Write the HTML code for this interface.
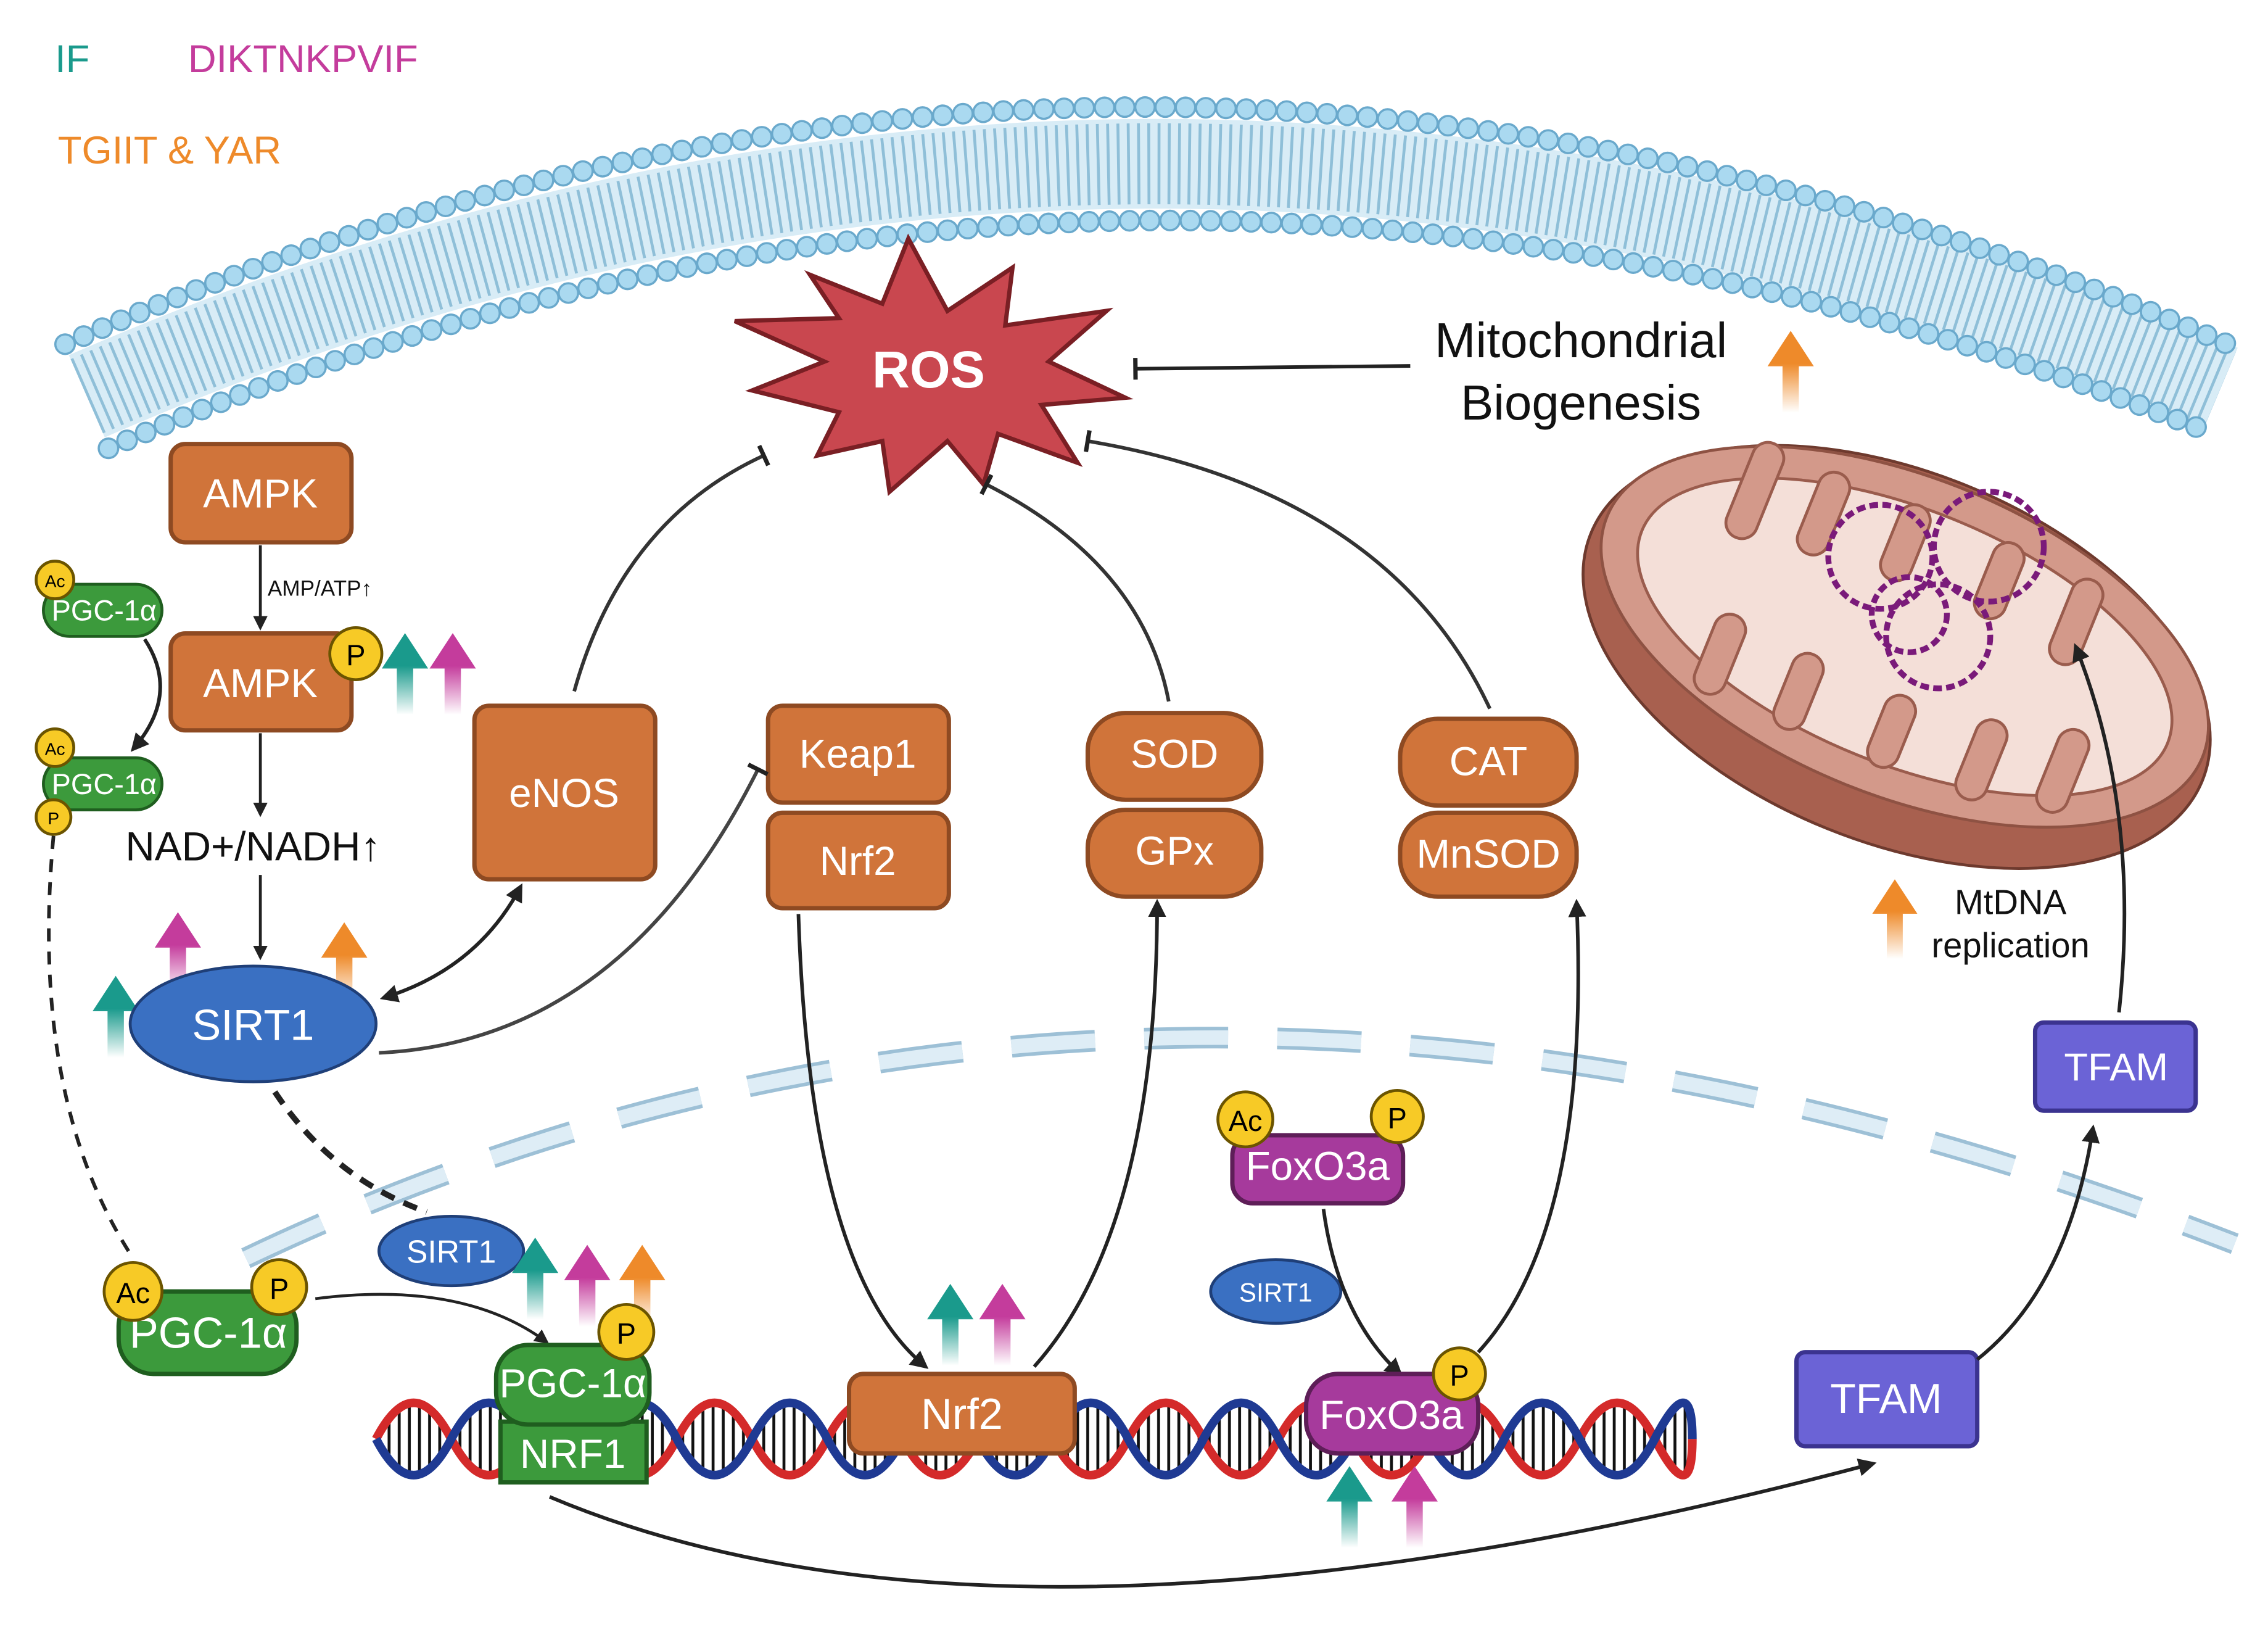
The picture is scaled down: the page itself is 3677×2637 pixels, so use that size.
<!DOCTYPE html>
<html><head><meta charset="utf-8"><style>
html,body{margin:0;padding:0;background:#fff;}
svg{display:block;}
text{font-family:"Liberation Sans",sans-serif;}
</style></head><body>
<svg width="3677" height="2637" viewBox="0 0 1568 1125" preserveAspectRatio="none" xmlns="http://www.w3.org/2000/svg">
<defs>
<marker id="ah" viewBox="0 0 10 10" refX="8" refY="5" markerWidth="5" markerHeight="5" orient="auto-start-reverse"><path d="M0,0 L10,5 L0,10 z" fill="#222"/></marker>
<marker id="bar" viewBox="0 0 10 10" refX="5" refY="5" markerWidth="6" markerHeight="6" orient="auto"><path d="M5,0 L5,10" stroke="#222" stroke-width="2"/></marker>
<linearGradient id="gT" x1="0" y1="0" x2="0" y2="1"><stop offset="0.4" stop-color="#1a9a8c"/><stop offset="1" stop-color="#1a9a8c" stop-opacity="0"/></linearGradient>
<linearGradient id="gM" x1="0" y1="0" x2="0" y2="1"><stop offset="0.4" stop-color="#c43c9c"/><stop offset="1" stop-color="#c43c9c" stop-opacity="0"/></linearGradient>
<linearGradient id="gO" x1="0" y1="0" x2="0" y2="1"><stop offset="0.4" stop-color="#ee8a2a"/><stop offset="1" stop-color="#ee8a2a" stop-opacity="0"/></linearGradient>
<symbol id="up" viewBox="0 0 34 60" overflow="visible"><path d="M17,0 L34,26 L23,26 L23,60 L11,60 L11,26 L0,26 Z"/></symbol>
<pattern id="rungs" width="7" height="10" patternUnits="userSpaceOnUse"><rect x="2" y="0" width="2" height="10" fill="#111"/></pattern>
<clipPath id="dnaClip"><path d="M260,995 Q286,945 312,995 T364,995 T416,995 T468,995 T520,995 T572,995 T624,995 T676,995 T728,995 T780,995 T832,995 T884,995 T936,995 T988,995 T1040,995 T1092,995 T1144,995 T1196,995 Q1170,945 1144,995 T1092,995 T1040,995 T988,995 T936,995 T884,995 T832,995 T780,995 T728,995 T676,995 T624,995 T572,995 T520,995 T468,995 T416,995 T364,995 T312,995 T260,995 Z"/></clipPath>
</defs>

<text x="38" y="50" font-size="27" fill="#1a9a8c">IF</text>
<text x="130" y="50" font-size="27" fill="#c43c9c">DIKTNKPVIF</text>
<text x="40" y="113" font-size="27" fill="#ee8a2a">TGIIT &amp; YAR</text>

<path d="M60,274 Q790,-45 1535,269" fill="none" stroke="#d8ecf6" stroke-width="62"/>
<path d="M60,274 Q790,-45 1535,269" fill="none" stroke="#8fbfd8" stroke-width="56" stroke-dasharray="2 5"/>
<path d="M45,238 Q790,-90 1540,238" fill="none" stroke="#6aa9cc" stroke-width="15" stroke-dasharray="0 14" stroke-linecap="round"/>
<path d="M45,238 Q790,-90 1540,238" fill="none" stroke="#aad9f0" stroke-width="12" stroke-dasharray="0 14" stroke-linecap="round"/>
<path d="M75,310 Q790,0 1530,300" fill="none" stroke="#6aa9cc" stroke-width="15" stroke-dasharray="0 14" stroke-linecap="round"/>
<path d="M75,310 Q790,0 1530,300" fill="none" stroke="#aad9f0" stroke-width="12" stroke-dasharray="0 14" stroke-linecap="round"/>

<path d="M170,870 Q800,570 1545,860" fill="none" stroke="#9dc0d6" stroke-width="15" stroke-dasharray="58 34"/>
<path d="M170,870 Q800,570 1545,860" fill="none" stroke="#deedf6" stroke-width="10" stroke-dasharray="58 34"/>

<polygon points="628,165 655,215 700,185 695,225 765,215 725,250 778,275 720,280 745,320 690,300 680,335 655,305 615,340 610,305 565,315 580,285 520,270 570,250 508,222 580,220 560,190 610,210" fill="#c9474f" stroke="#7a1f24" stroke-width="3"/>
<text x="642" y="268" font-size="36" font-weight="bold" fill="#fff" text-anchor="middle">ROS</text>

<text x="1093" y="247" font-size="34" text-anchor="middle" fill="#111">Mitochondrial</text>
<text x="1093" y="290" font-size="34" text-anchor="middle" fill="#111">Biogenesis</text>
<path d="M975,253 L785,255" stroke="#222" stroke-width="2.5" fill="none" marker-end="url(#bar)"/>
<use href="#up" x="1222" y="228" width="32" height="58" fill="url(#gO)"/>

<g transform="rotate(22 1315 445)">
<ellipse cx="1315" cy="455" rx="228" ry="128" fill="#a8604f" stroke="#6e3a2e" stroke-width="2"/>
<ellipse cx="1315" cy="440" rx="222" ry="110" fill="#d3998a" stroke="#8e5243" stroke-width="2"/>
<ellipse cx="1315" cy="440" rx="196" ry="88" fill="#f4dfd8" stroke="#9a5c4d" stroke-width="2"/>
<g fill="#d3998a" stroke="#9a5c4d" stroke-width="2">
<rect x="1170" y="350" width="22" height="70" rx="11"/><rect x="1220" y="352" width="22" height="60" rx="11"/><rect x="1280" y="352" width="22" height="55" rx="11"/><rect x="1350" y="352" width="22" height="55" rx="11"/><rect x="1410" y="355" width="22" height="62" rx="11"/>
<rect x="1190" y="470" width="22" height="58" rx="11"/><rect x="1250" y="475" width="22" height="55" rx="11"/><rect x="1320" y="478" width="22" height="52" rx="11"/><rect x="1385" y="470" width="22" height="58" rx="11"/><rect x="1440" y="455" width="22" height="60" rx="11"/>
</g>
</g>
<g fill="none" stroke="#7a1a7a" stroke-width="4" stroke-dasharray="6 3">
<circle cx="1300" cy="385" r="36"/><circle cx="1375" cy="378" r="38"/><circle cx="1340" cy="440" r="36"/><circle cx="1320" cy="425" r="26"/>
</g>

<rect x="118" y="307" width="125" height="68" rx="10" fill="#d0743a" stroke="#8e4a22" stroke-width="3"/>
<text x="180" y="351" font-size="28" fill="#fff" text-anchor="middle">AMPK</text>
<path d="M180,377 L180,434" stroke="#222" stroke-width="2" marker-end="url(#ah)"/>
<text x="185" y="412" font-size="15" fill="#111">AMP/ATP↑</text>
<rect x="118" y="438" width="125" height="67" rx="10" fill="#d0743a" stroke="#8e4a22" stroke-width="3"/>
<text x="180" y="482" font-size="28" fill="#fff" text-anchor="middle">AMPK</text>
<circle cx="246" cy="452" r="18" fill="#f7ca26" stroke="#6b5400" stroke-width="2"/><text x="246" y="460" font-size="20" text-anchor="middle">P</text>
<use href="#up" x="264" y="436" width="32" height="60" fill="url(#gT)"/>
<use href="#up" x="297" y="436" width="32" height="60" fill="url(#gM)"/>
<path d="M180,507 L180,563" stroke="#222" stroke-width="2" marker-end="url(#ah)"/>
<text x="175" y="595" font-size="28" text-anchor="middle" fill="#111">NAD+/NADH↑</text>
<path d="M180,605 L180,662" stroke="#222" stroke-width="2" marker-end="url(#ah)"/>

<rect x="30" y="404" width="82" height="36" rx="18" fill="#3c9a3c" stroke="#1f5e1f" stroke-width="2"/>
<text x="72" y="429" font-size="20" fill="#fff" text-anchor="middle">PGC-1α</text>
<circle cx="38" cy="401" r="13" fill="#f7ca26" stroke="#6b5400" stroke-width="2"/><text x="38" y="406" font-size="12" text-anchor="middle">Ac</text>
<rect x="30" y="524" width="82" height="36" rx="18" fill="#3c9a3c" stroke="#1f5e1f" stroke-width="2"/>
<text x="72" y="549" font-size="20" fill="#fff" text-anchor="middle">PGC-1α</text>
<circle cx="38" cy="517" r="13" fill="#f7ca26" stroke="#6b5400" stroke-width="2"/><text x="38" y="522" font-size="12" text-anchor="middle">Ac</text>
<circle cx="37" cy="565" r="12" fill="#f7ca26" stroke="#6b5400" stroke-width="2"/><text x="37" y="570" font-size="12" text-anchor="middle">P</text>
<path d="M100,442 Q125,480 92,518" fill="none" stroke="#222" stroke-width="2.5" marker-end="url(#ah)"/>
<path d="M37,578 Q20,760 92,870" fill="none" stroke="#222" stroke-width="2.5" stroke-dasharray="9 7"/>

<use href="#up" x="64" y="672" width="32" height="62" fill="url(#gT)"/>
<use href="#up" x="107" y="628" width="32" height="62" fill="url(#gM)"/>
<use href="#up" x="222" y="635" width="32" height="62" fill="url(#gO)"/>
<ellipse cx="175" cy="708" rx="85" ry="40" fill="#3a70c2" stroke="#1f3f78" stroke-width="2"/>
<text x="175" y="719" font-size="30" fill="#fff" text-anchor="middle">SIRT1</text>
<path d="M190,755 Q230,815 295,838" fill="none" stroke="#222" stroke-width="4" stroke-dasharray="10 7"/>

<rect x="328" y="488" width="125" height="120" rx="10" fill="#d0743a" stroke="#8e4a22" stroke-width="3"/>
<text x="390" y="558" font-size="28" fill="#fff" text-anchor="middle">eNOS</text>
<path d="M265,690 Q330,670 360,613" fill="none" stroke="#222" stroke-width="2.5" marker-start="url(#ah)" marker-end="url(#ah)"/>
<path d="M397,478 Q430,360 528,315" fill="none" stroke="#333" stroke-width="2.5" marker-end="url(#bar)"/>

<rect x="531" y="488" width="125" height="67" rx="10" fill="#d0743a" stroke="#8e4a22" stroke-width="3"/>
<text x="593" y="531" font-size="28" fill="#fff" text-anchor="middle">Keap1</text>
<rect x="531" y="562" width="125" height="66" rx="10" fill="#d0743a" stroke="#8e4a22" stroke-width="3"/>
<text x="593" y="605" font-size="28" fill="#fff" text-anchor="middle">Nrf2</text>
<path d="M262,728 Q430,720 524,532" fill="none" stroke="#444" stroke-width="2.5" marker-end="url(#bar)"/>

<rect x="752" y="493" width="120" height="60" rx="26" fill="#d0743a" stroke="#8e4a22" stroke-width="3"/>
<text x="812" y="531" font-size="28" fill="#fff" text-anchor="middle">SOD</text>
<rect x="752" y="560" width="120" height="60" rx="26" fill="#d0743a" stroke="#8e4a22" stroke-width="3"/>
<text x="812" y="598" font-size="28" fill="#fff" text-anchor="middle">GPx</text>
<path d="M808,485 Q790,390 682,335" fill="none" stroke="#333" stroke-width="2.5" marker-end="url(#bar)"/>

<rect x="968" y="497" width="122" height="60" rx="26" fill="#d0743a" stroke="#8e4a22" stroke-width="3"/>
<text x="1029" y="536" font-size="28" fill="#fff" text-anchor="middle">CAT</text>
<rect x="968" y="562" width="122" height="58" rx="26" fill="#d0743a" stroke="#8e4a22" stroke-width="3"/>
<text x="1029" y="600" font-size="28" fill="#fff" text-anchor="middle">MnSOD</text>
<path d="M1030,490 Q960,340 752,305" fill="none" stroke="#333" stroke-width="2.5" marker-end="url(#bar)"/>

<use href="#up" x="1294" y="608" width="32" height="55" fill="url(#gO)"/>
<text x="1390" y="632" font-size="24" text-anchor="middle" fill="#111">MtDNA</text>
<text x="1390" y="662" font-size="24" text-anchor="middle" fill="#111">replication</text>
<rect x="1407" y="707" width="111" height="61" rx="6" fill="#6b63d6" stroke="#3b3390" stroke-width="3"/>
<text x="1463" y="747" font-size="27" fill="#fff" text-anchor="middle">TFAM</text>
<path d="M1465,700 Q1480,560 1435,447" fill="none" stroke="#222" stroke-width="2.5" marker-end="url(#ah)"/>
<rect x="1242" y="935" width="125" height="65" rx="6" fill="#6b63d6" stroke="#3b3390" stroke-width="3"/>
<text x="1304" y="977" font-size="29" fill="#fff" text-anchor="middle">TFAM</text>
<path d="M1367,940 Q1430,890 1447,780" fill="none" stroke="#222" stroke-width="2.5" marker-end="url(#ah)"/>

<rect x="260" y="960" width="910" height="70" fill="url(#rungs)" clip-path="url(#dnaClip)"/>
<path d="M260,995 Q286,945 312,995 T364,995 T416,995 T468,995 T520,995 T572,995 T624,995 T676,995 T728,995 T780,995 T832,995 T884,995 T936,995 T988,995 T1040,995 T1092,995 T1144,995 T1170,995" fill="none" stroke="#d42a2a" stroke-width="6"/>
<path d="M260,995 Q286,1045 312,995 T364,995 T416,995 T468,995 T520,995 T572,995 T624,995 T676,995 T728,995 T780,995 T832,995 T884,995 T936,995 T988,995 T1040,995 T1092,995 T1144,995 T1170,995" fill="none" stroke="#1f3a93" stroke-width="6"/>

<rect x="82" y="893" width="123" height="57" rx="24" fill="#3c9a3c" stroke="#1f5e1f" stroke-width="3"/>
<text x="144" y="932" font-size="30" fill="#fff" text-anchor="middle">PGC-1α</text>
<circle cx="92" cy="893" r="20" fill="#f7ca26" stroke="#6b5400" stroke-width="2"/><text x="92" y="901" font-size="20" text-anchor="middle">Ac</text>
<circle cx="193" cy="890" r="19" fill="#f7ca26" stroke="#6b5400" stroke-width="2"/><text x="193" y="898" font-size="20" text-anchor="middle">P</text>
<path d="M218,898 Q320,885 378,928" fill="none" stroke="#222" stroke-width="2" marker-end="url(#ah)"/>

<ellipse cx="312" cy="865" rx="50" ry="24" fill="#3a70c2" stroke="#1f3f78" stroke-width="2"/>
<text x="312" y="873" font-size="22" fill="#fff" text-anchor="middle">SIRT1</text>
<use href="#up" x="354" y="853" width="32" height="62" fill="url(#gT)"/>
<use href="#up" x="390" y="858" width="32" height="62" fill="url(#gM)"/>
<use href="#up" x="428" y="858" width="32" height="62" fill="url(#gO)"/>

<rect x="346" y="983" width="101" height="42" fill="#3c9a3c" stroke="#1f5e1f" stroke-width="3"/>
<text x="396" y="1015" font-size="28" fill="#fff" text-anchor="middle">NRF1</text>
<rect x="343" y="930" width="106" height="55" rx="22" fill="#3c9a3c" stroke="#1f5e1f" stroke-width="3"/>
<text x="396" y="966" font-size="28" fill="#fff" text-anchor="middle">PGC-1α</text>
<circle cx="433" cy="921" r="19" fill="#f7ca26" stroke="#6b5400" stroke-width="2"/><text x="433" y="929" font-size="20" text-anchor="middle">P</text>

<path d="M552,632 Q560,880 640,945" fill="none" stroke="#222" stroke-width="2.5" marker-end="url(#ah)"/>
<path d="M715,945 Q800,850 800,624" fill="none" stroke="#222" stroke-width="2.5" marker-end="url(#ah)"/>
<use href="#up" x="641" y="886" width="32" height="60" fill="url(#gT)"/>
<use href="#up" x="677" y="886" width="32" height="60" fill="url(#gM)"/>
<rect x="587" y="950" width="156" height="55" rx="10" fill="#d0743a" stroke="#8e4a22" stroke-width="3"/>
<text x="665" y="988" font-size="30" fill="#fff" text-anchor="middle">Nrf2</text>

<rect x="852" y="785" width="118" height="47" rx="14" fill="#a63a9c" stroke="#5e1e58" stroke-width="3"/>
<text x="911" y="816" font-size="28" fill="#fff" text-anchor="middle">FoxO3a</text>
<circle cx="861" cy="774" r="19" fill="#f7ca26" stroke="#6b5400" stroke-width="2"/><text x="861" y="782" font-size="20" text-anchor="middle">Ac</text>
<circle cx="966" cy="772" r="18" fill="#f7ca26" stroke="#6b5400" stroke-width="2"/><text x="966" y="780" font-size="20" text-anchor="middle">P</text>
<ellipse cx="882" cy="893" rx="45" ry="22" fill="#3a70c2" stroke="#1f3f78" stroke-width="2"/>
<text x="882" y="900" font-size="18" fill="#fff" text-anchor="middle">SIRT1</text>
<path d="M915,836 Q925,910 968,950" fill="none" stroke="#222" stroke-width="2.5" marker-end="url(#ah)"/>
<path d="M1022,935 Q1100,850 1090,624" fill="none" stroke="#222" stroke-width="2.5" marker-end="url(#ah)"/>
<rect x="903" y="950" width="119" height="55" rx="22" fill="#a63a9c" stroke="#5e1e58" stroke-width="3"/>
<text x="962" y="988" font-size="28" fill="#fff" text-anchor="middle">FoxO3a</text>
<circle cx="1009" cy="950" r="18" fill="#f7ca26" stroke="#6b5400" stroke-width="2"/><text x="1009" y="958" font-size="20" text-anchor="middle">P</text>
<use href="#up" x="917" y="1012" width="32" height="60" fill="url(#gT)"/>
<use href="#up" x="962" y="1012" width="32" height="60" fill="url(#gM)"/>

<path d="M380,1035 Q700,1170 1295,1012" fill="none" stroke="#222" stroke-width="2.5" marker-end="url(#ah)"/>
</svg>
</body></html>
